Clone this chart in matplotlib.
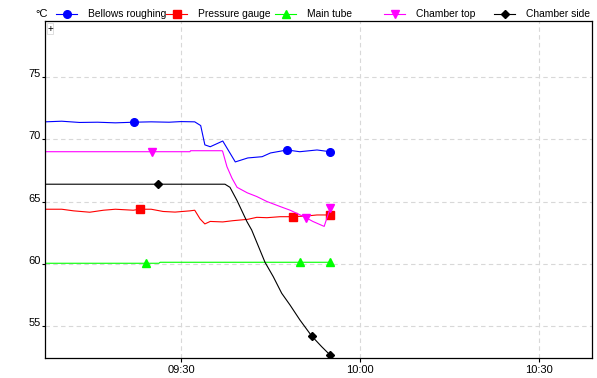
import matplotlib
matplotlib.use("Agg")
import matplotlib.pyplot as plt
import matplotlib.dates as mdates
from matplotlib.lines import Line2D
from datetime import datetime, timedelta

plt.rcParams['font.family'] = ['Liberation Sans', 'DejaVu Sans']
plt.rcParams['font.size'] = 8

BASE = datetime(2000, 1, 1, 9, 0)

# minutes after 09:00 and temperatures (°C)
bellows_t = [7.2, 10, 13, 16, 19, 22.1, 25, 28, 30, 32.3, 33.3, 34.0, 34.9, 37.0, 39.1, 41.2, 43.6, 45.0, 47.8, 49.9, 52.8, 55.0]
bellows_v = [71.40, 71.45, 71.35, 71.37, 71.32, 71.37, 71.40, 71.37, 71.42, 71.40, 71.10, 69.55, 69.40, 69.86, 68.18, 68.50, 68.60, 68.90, 69.14, 69.00, 69.14, 69.00]
bellows_marks = [5, 18, 21]

gauge_t = [7.2, 10, 12, 14.7, 17, 19, 22, 23.1, 25, 27, 29, 31.5, 32.3, 33.2, 34.0, 34.9, 37.0, 38.7, 41.2, 42.7, 44.4, 46.6, 48.8, 51.1, 52.8, 54.5, 55.0]
gauge_v = [64.38, 64.38, 64.25, 64.14, 64.30, 64.38, 64.30, 64.38, 64.38, 64.20, 64.15, 64.25, 64.30, 63.60, 63.20, 63.40, 63.36, 63.46, 63.57, 63.73, 63.70, 63.78, 63.78, 63.84, 63.92, 63.92, 63.92]
gauge_marks = [7, 22, 26]

tube_t = [7.2, 24.1, 26.3, 26.5, 49.9, 55.0]
tube_v = [60.04, 60.04, 60.04, 60.12, 60.12, 60.12]
tube_marks = [1, 4, 5]

top_t = [7.2, 25.1, 31.5, 31.6, 36.9, 37.0, 37.7, 38.55, 39.4, 41.1, 42.7, 44.4, 46.6, 48.3, 50.95, 52.1, 54.0, 55.0]
top_v = [69.0, 69.0, 69.0, 69.08, 69.08, 69.0, 67.8, 66.87, 66.14, 65.7, 65.4, 65.0, 64.6, 64.3, 63.7, 63.4, 63.0, 64.46]
top_marks = [1, 14, 17]

side_t = [7.2, 26.15, 37.37, 38.21, 39.39, 41.06, 41.85, 44.08, 45.47, 46.88, 48.27, 49.94, 51.9, 53.58, 54.97]
side_v = [66.39, 66.39, 66.39, 66.14, 65.08, 63.38, 62.71, 60.12, 58.96, 57.63, 56.69, 55.48, 54.20, 53.34, 52.68]
side_marks = [1, 12, 14]

names = ["Bellows roughing", "Pressure gauge", "Main tube", "Chamber top", "Chamber side"]
colors = ["#0000ff", "#ff0000", "#00ff00", "#ff00ff", "#000000"]
markers = ["o", "s", "^", "v", "D"]
msizes = [5.5, 5.5, 6, 6, 4.5]

series = [(bellows_t, bellows_v, bellows_marks), (gauge_t, gauge_v, gauge_marks),
          (tube_t, tube_v, tube_marks), (top_t, top_v, top_marks),
          (side_t, side_v, side_marks)]

fig = plt.figure(figsize=(5.97, 3.78), dpi=100)
ax = fig.add_axes([45/597, 20/378, 547/597, 337/378])

for (t, v, mk), name, c, m, ms in zip(series, names, colors, markers, msizes):
    times = [BASE + timedelta(minutes=x) for x in t]
    ax.plot(times, v, color=c, lw=0.8, marker=m, ms=ms, markevery=mk,
            markeredgecolor=c, markerfacecolor=c)

ax.set_xlim(BASE + timedelta(minutes=7.2), BASE + timedelta(minutes=98.9))
ax.set_ylim(52.43, 79.5)
ax.xaxis.set_major_locator(mdates.MinuteLocator(byminute=[0, 30]))
ax.xaxis.set_major_formatter(mdates.DateFormatter('%H:%M'))
ax.set_yticks([55, 60, 65, 70, 75])
ax.grid(True, color='#d8d8d8', linestyle=(0, (4, 3)), lw=0.8)
ax.tick_params(axis='x', length=3, width=0.8, pad=2, labelsize=8)
ax.tick_params(axis='y', length=2, width=0.8, pad=1, labelsize=8)
for lab in ax.get_yticklabels():
    lab.set_verticalalignment('baseline')
for s in ax.spines.values():
    s.set_linewidth(0.9)

ax.text(0.004, 0.992, '+', transform=ax.transAxes, fontsize=7, va='top', ha='left',
        bbox=dict(boxstyle='square,pad=0.05', fc='white', ec='#d8d8d8', lw=0.6))

# legend row along the top
fig.text(35/597, 1 - 14/378, '°C', va='center', ha='left', fontsize=8)
leg_x = [56, 166, 275, 384, 494]
for x0, name, c, m, ms in zip(leg_x, names, colors, markers, msizes):
    fig.add_artist(Line2D([x0/597, (x0 + 21)/597], [1 - 14/378] * 2, color=c, lw=0.8,
                          transform=fig.transFigure))
    fig.add_artist(Line2D([(x0 + 10.5)/597], [1 - 14/378], color=c, marker=m, ms=ms,
                          markeredgecolor=c, transform=fig.transFigure))
    fig.text((x0 + 32)/597, 1 - 14/378, name, va='center', ha='left', fontsize=7.4)

fig.savefig('out.png', dpi=100)
